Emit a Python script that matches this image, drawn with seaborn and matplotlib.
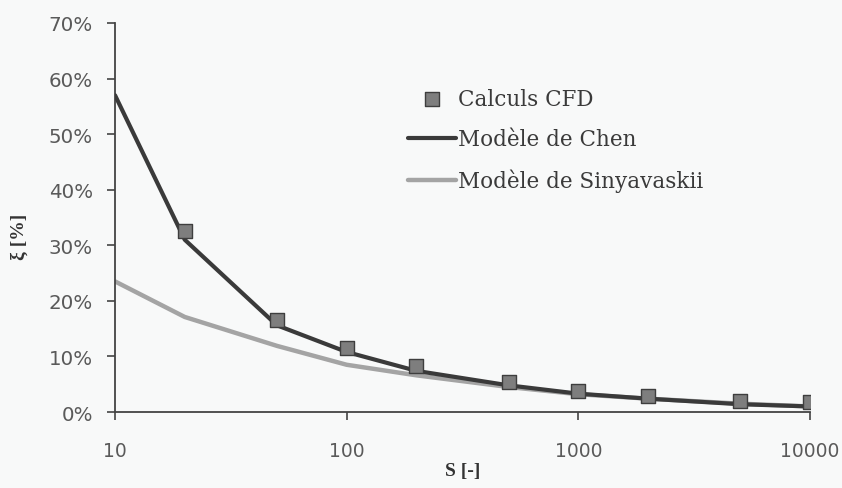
import numpy as np
import pandas as pd
import matplotlib
matplotlib.use("Agg")
import matplotlib.pyplot as plt
import seaborn as sns
from matplotlib.ticker import FixedLocator, FuncFormatter, NullLocator

# Data
s_cfd = [20, 50, 100, 200, 500, 1000, 2000, 5000, 10000]
xi_cfd = [32.6, 16.5, 11.5, 8.2, 5.4, 3.8, 2.9, 2.0, 1.8]

s_model = [10, 20, 50, 100, 200, 500, 1000, 2000, 5000, 10000]
xi_chen = [57.0, 31.0, 15.6, 10.8, 7.4, 4.8, 3.3, 2.4, 1.4, 1.0]
xi_siny = [23.5, 17.1, 11.9, 8.5, 6.6, 4.5, 3.2, 2.4, 1.5, 1.0]

x_ticks = [10, 100, 1000, 10000]
y_ticks = [0, 10, 20, 30, 40, 50, 60, 70]

sns.set_style("ticks")
bg = "#f8f9f9"
fig = plt.figure(figsize=(8.42, 4.89), dpi=100, facecolor=bg)
ax = fig.add_axes([0.1366, 0.1554, 0.8254, 0.7956])
ax.set_facecolor(bg)

df_chen = pd.DataFrame({"S": s_model, "xi": xi_chen})
df_siny = pd.DataFrame({"S": s_model, "xi": xi_siny})
df_cfd = pd.DataFrame({"S": s_cfd, "xi": xi_cfd})

sns.lineplot(data=df_siny, x="S", y="xi", ax=ax, color="#a4a4a4", linewidth=3.2,
             label="Modèle de Sinyavaskii", zorder=2)
sns.lineplot(data=df_chen, x="S", y="xi", ax=ax, color="#3a3a3a", linewidth=3.0,
             label="Modèle de Chen", zorder=3)
sns.scatterplot(data=df_cfd, x="S", y="xi", ax=ax, marker="s", s=115,
                color="#7e7e7e", edgecolor="#3e3e3e", linewidth=1.0,
                label="Calculs CFD", zorder=4)

ax.set_xscale("log")
ax.set_xlim(10, 10000)
ax.set_ylim(0, 70)
ax.xaxis.set_major_locator(FixedLocator(x_ticks))
ax.xaxis.set_minor_locator(NullLocator())
ax.xaxis.set_major_formatter(FuncFormatter(lambda v, p: f"{int(round(v))}"))
ax.yaxis.set_major_locator(FixedLocator(y_ticks))
ax.yaxis.set_major_formatter(FuncFormatter(lambda v, p: f"{int(round(v))}%"))

sns.despine(ax=ax)
for sp in ["left", "bottom"]:
    ax.spines[sp].set_color("#444444")
    ax.spines[sp].set_linewidth(1.3)
ax.tick_params(axis="both", colors="#444444", labelcolor="#5a5a5a",
               length=6, width=1.2, direction="out")
ax.tick_params(axis="x", pad=15, labelsize=13.5)
ax.tick_params(axis="y", pad=10, labelsize=14.3)
for lab in ax.get_xticklabels() + ax.get_yticklabels():
    lab.set_family(["DejaVu Sans"])

ax.set_xlabel("S [-]", family="Liberation Serif", fontweight="bold",
              fontsize=14, color="#333333")
ax.set_ylabel("ξ [%]", family="Liberation Serif", fontweight="bold",
              fontsize=14, color="#333333")
ax.xaxis.set_label_coords(0.500, -0.1285)
ax.yaxis.set_label_coords(-0.125, 0.452)

handles, labels = ax.get_legend_handles_labels()
order = [labels.index("Calculs CFD"), labels.index("Modèle de Chen"),
         labels.index("Modèle de Sinyavaskii")]
leg = ax.legend([handles[i] for i in order], [labels[i] for i in order],
                loc="upper left", bbox_to_anchor=(0.4086, 0.8556),
                borderaxespad=0.0, frameon=False,
                prop={"family": "DejaVu Serif", "size": 15.5},
                handlelength=2.25, handletextpad=0.1, labelspacing=0.86,
                markerscale=0.9, labelcolor="#3a3a3a")

fig.savefig("out.png", dpi=100, facecolor=bg)
